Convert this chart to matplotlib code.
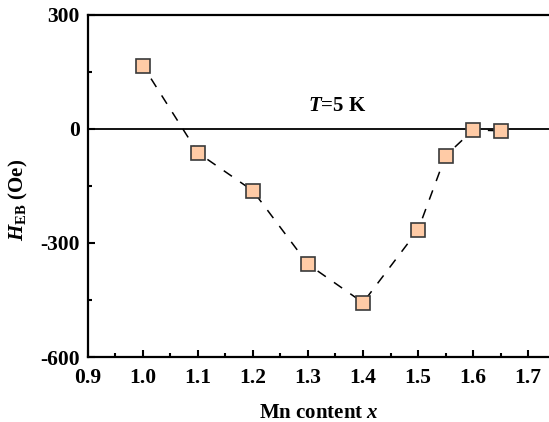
import matplotlib
matplotlib.use('Agg')
import matplotlib.pyplot as plt
from matplotlib.ticker import MultipleLocator

# Mn content vs exchange bias field at 5 K
mn_content = [1.0, 1.1, 1.2, 1.3, 1.4, 1.5, 1.55, 1.6, 1.65]
h_eb = [166, -63, -163, -356, -457, -266, -71, -3, -5]

plt.rcParams['font.family'] = 'Liberation Serif'
plt.rcParams['font.weight'] = 'bold'
plt.rcParams['axes.labelweight'] = 'bold'
plt.rcParams['axes.unicode_minus'] = False
plt.rcParams['mathtext.fontset'] = 'custom'
plt.rcParams['mathtext.rm'] = 'Liberation Serif:bold'
plt.rcParams['mathtext.it'] = 'Liberation Serif:bold:italic'
plt.rcParams['mathtext.bf'] = 'Liberation Serif:bold'

fig = plt.figure(figsize=(5.49, 4.22), dpi=100)
ax = fig.add_axes([0.160, 0.154, 0.840, 0.811])

ax.axhline(0, color='black', lw=1.3, zorder=1)
ax.plot(mn_content, h_eb, ls=(3, (6.5, 6.5)), color='black', lw=1.1, zorder=2)
ax.plot(mn_content, h_eb, 's', ms=10.5, mfc='#ffcba6', mec='#3a3a3a', mew=1.2,
        ls='none', zorder=3)

ax.text(1.353, 60, '$T$=5 K', fontsize=15, ha='center', va='center')

ax.set_xlim(0.9, 1.738)
ax.set_ylim(-600, 300)
ax.xaxis.set_major_locator(MultipleLocator(0.1))
ax.xaxis.set_minor_locator(MultipleLocator(0.05))
ax.yaxis.set_major_locator(MultipleLocator(300))
ax.yaxis.set_minor_locator(MultipleLocator(150))
ax.tick_params(which='both', direction='in', labelsize=15.5, width=1.5)
ax.tick_params(axis='x', pad=8)
ax.tick_params(axis='y', pad=6)
ax.tick_params(which='major', length=5)
ax.tick_params(which='minor', length=3)
ax.spines['right'].set_visible(False)
for s in ['left', 'bottom', 'top']:
    ax.spines[s].set_linewidth(1.6)

ax.set_xlabel('Mn content $x$', fontsize=15)
ax.set_ylabel('$H_{\\mathrm{EB}}$ (Oe)', fontsize=15)
ax.xaxis.set_label_coords(0.5, -0.135)
ax.yaxis.set_label_coords(-0.125, 0.46)

fig.savefig('out.png', dpi=100)
